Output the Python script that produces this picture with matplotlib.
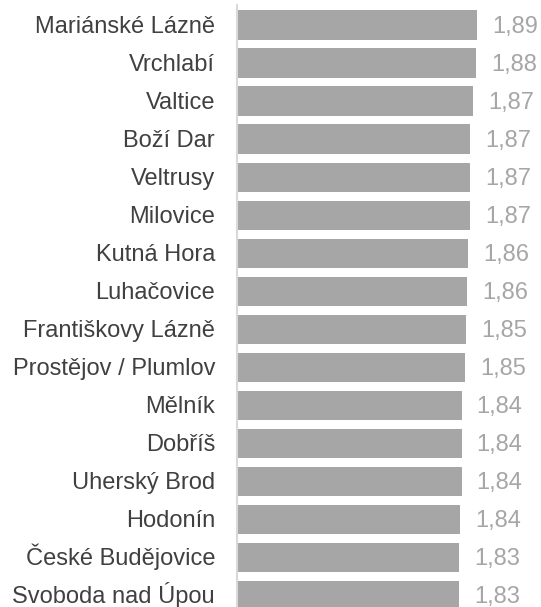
import matplotlib
matplotlib.use("Agg")
import matplotlib.pyplot as plt

plt.rcParams['font.family'] = ['Liberation Sans', 'DejaVu Sans']

# towns, top to bottom
towns = ['Mariánské Lázně', 'Vrchlabí', 'Valtice', 'Boží Dar', 'Veltrusy',
         'Milovice', 'Kutná Hora', 'Luhačovice', 'Františkovy Lázně',
         'Prostějov / Plumlov', 'Mělník', 'Dobříš', 'Uherský Brod',
         'Hodonín', 'České Budějovice', 'Svoboda nad Úpou']
# values (labels show them rounded)
values = [1.886, 1.883, 1.874, 1.867, 1.867, 1.866, 1.860, 1.858, 1.854,
          1.852, 1.842, 1.842, 1.842, 1.838, 1.834, 1.834]

W, H = 541, 607
fig = plt.figure(figsize=(W / 100, H / 100), dpi=100)
ax = fig.add_axes([237 / W, 0, 304 / W, 602 / H])

pos = list(range(len(towns)))
ax.barh(pos, [v - 1.2 for v in values], left=1.2, height=0.77,
        color='#A6A6A6', edgecolor='none')

# baseline sits ~7-8 px under the bar centre (caps centred on bar)
for y, v, name in zip(pos, values, towns):
    ax.annotate(f'{v:.2f}'.replace('.', ','), xy=(v, y), xytext=(10.8, -5.5),
                textcoords='offset points', va='baseline', ha='left',
                fontsize=17, color='#A6A6A6')
    ax.annotate(name, xy=(0, y), xycoords=('axes fraction', 'data'),
                xytext=(-15.8, -5.5), textcoords='offset points',
                va='baseline', ha='right', fontsize=17, color='#404040')

ax.set_xlim(1.2, 1.2 + 304 / 350)
ax.set_ylim((H - 25) / 38.04, -20 / 38.04)
ax.set_yticks([])
ax.set_xticks([])

for s in ['top', 'right', 'bottom']:
    ax.spines[s].set_visible(False)
ax.spines['left'].set_color('#D9D9D9')
ax.spines['left'].set_linewidth(1.5)

fig.savefig('out.png', dpi=100)
